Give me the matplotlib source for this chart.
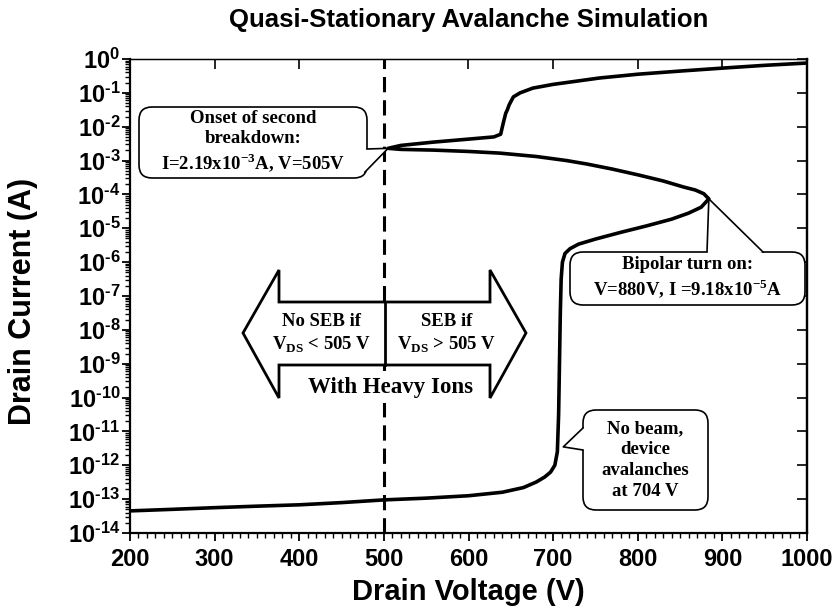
import numpy as np
import matplotlib.pyplot as plt
from matplotlib.patches import FancyBboxPatch, Polygon
from matplotlib.lines import Line2D
from matplotlib.ticker import FixedLocator, MultipleLocator, LogLocator, FuncFormatter, NullLocator
from matplotlib.transforms import Affine2D

# no beam: leakage, avalanche near 704 V, then up to bipolar turn-on
NOBEAM_V = [200, 250, 300, 350, 400, 450, 500, 550, 600, 640, 665, 680, 690, 697,
            702, 705, 706.5, 707.5, 708.5, 709.5, 711, 714, 720, 730, 750, 780,
            810, 840, 860, 875, 884]
NOBEAM_I = [4.5e-14, 5.0e-14, 5.6e-14, 6.2e-14, 6.8e-14, 7.9e-14, 9.5e-14, 1.07e-13,
            1.26e-13, 1.6e-13, 2.2e-13, 3.2e-13, 4.5e-13, 6.3e-13, 1.0e-12, 2.5e-12,
            3.2e-11, 1.0e-9, 3.2e-8, 3.2e-7, 1.0e-6, 1.8e-6, 2.5e-6, 3.4e-6, 4.8e-6,
            7.6e-6, 1.17e-5, 1.86e-5, 2.8e-5, 4.2e-5, 7.4e-5]
# snapback branch back down to the onset of second breakdown
SNAP_V = [878, 868, 854, 830, 800, 770, 740, 716, 680, 637, 600, 558, 520, 505]
SNAP_I = [1.05e-4, 1.35e-4, 1.66e-4, 2.5e-4, 3.8e-4, 5.6e-4, 7.9e-4, 1.0e-3,
          1.32e-3, 1.66e-3, 1.86e-3, 2.04e-3, 2.14e-3, 2.3e-3]
# second breakdown branch
SB_V = [520, 558, 600, 630, 638, 641, 644, 646, 648, 653, 661, 676, 700, 755,
        800, 850, 901, 950, 1000]
SB_I = [2.8e-3, 3.5e-3, 4.3e-3, 5.0e-3, 6.0e-3, 1.26e-2, 2.5e-2, 3.2e-2, 4.4e-2,
        7.6e-2, 0.1, 0.138, 0.178, 0.275, 0.355, 0.44, 0.54, 0.65, 0.76]

XTICKS = [200, 300, 400, 500, 600, 700, 800, 900, 1000]
YTICK_EXP = list(range(-14, 1))

SEB_V = 500
ONSET = (SNAP_V[-1], SNAP_I[-1])
BIPOLAR = (NOBEAM_V[-1], NOBEAM_I[-1])
AVAL_TIP = (712, 3.5e-12)

plt.rcParams.update({'font.family': 'Liberation Sans', 'font.weight': 'bold',
                     'axes.labelweight': 'bold',
                     'mathtext.fontset': 'custom',
                     'mathtext.rm': 'Liberation Sans:bold',
                     'mathtext.bf': 'Liberation Sans:bold'})
SERIF = 'Liberation Serif'

fig = plt.figure(figsize=(8.39, 6.15), dpi=100)
ax = fig.add_axes([130/839, 1 - 533/615, 677/839, 474/615])

volts = NOBEAM_V + SNAP_V + SB_V
amps = NOBEAM_I + SNAP_I + SB_I
ax.plot(volts, amps, color='black', lw=2.6, solid_joinstyle='round', zorder=3)
ax.axvline(SEB_V, color='black', lw=2.2, dashes=(5, 2.6), zorder=2)

ax.set_yscale('log')
ax.set_xlim(200, 1000)
ax.set_ylim(1e-14, 1)

ax.xaxis.set_major_locator(FixedLocator(XTICKS))
ax.xaxis.set_minor_locator(MultipleLocator(10))
ax.yaxis.set_major_locator(FixedLocator([10.0**e for e in YTICK_EXP]))
ax.yaxis.set_minor_locator(LogLocator(base=10, subs=np.arange(2, 10), numticks=100))


def exp_label(v, pos):
    e = int(round(np.log10(v)))
    sign = r'\text{-}' if e < 0 else ''
    return r'$\mathdefault{10^{%s%d}}$' % (sign, abs(e))


ax.yaxis.set_major_formatter(FuncFormatter(exp_label))
ax.tick_params(which='both', direction='out', labelsize=17)
ax.tick_params(which='major', length=6, width=1.3)
ax.tick_params(which='minor', length=3.5, width=1)
ax.tick_params(axis='y', pad=1)
ax.tick_params(axis='x', pad=5)
for s in ax.spines.values():
    s.set_linewidth(1.6)
ax.spines['top'].set_linewidth(1.0)

secx = ax.secondary_xaxis('top')
secx.xaxis.set_major_locator(FixedLocator(XTICKS))
secx.xaxis.set_minor_locator(NullLocator())
secx.tick_params(direction='in', length=7, width=1.2, labeltop=False)
secy = ax.secondary_yaxis('right')
secy.yaxis.set_major_locator(FixedLocator([10.0**e for e in YTICK_EXP]))
secy.yaxis.set_minor_locator(NullLocator())
secy.tick_params(direction='in', length=7, width=1.2, labelright=False)
secy.spines['right'].set_linewidth(1.6)

ax.set_xlabel('Drain Voltage (V)', fontsize=21)
ax.xaxis.set_label_coords(0.5, -0.095)
ax.set_ylabel('Drain Current (A)', fontsize=22, va='center')
ax.yaxis.set_label_coords(-0.158, 0.489)

# reference pixel coordinates (origin top-left) for the annotation shapes
px = Affine2D().scale(1/839, -1/615).translate(0, 1) + fig.transFigure
fig.text(469, 20, 'Quasi-Stationary Avalanche Simulation', transform=px,
         ha='center', va='center', fontsize=18.5)


def to_px(pt):
    return px.inverted().transform(ax.transData.transform(pt))


def callout(box, base, tip, text, fs, ls):
    x0, y0, x1, y1 = box
    fig.add_artist(FancyBboxPatch((x0, y0), x1 - x0, y1 - y0,
                                  boxstyle='round,pad=0,rounding_size=13',
                                  transform=px, fc='white', ec='black', lw=1.2,
                                  zorder=5))
    cx, cy = (x0 + x1) / 2, (y0 + y1) / 2
    inner = []
    for bx, by in base:
        d = np.array([cx - bx, cy - by])
        inner.append(np.array([bx, by]) + 5 * d / np.linalg.norm(d))
    t = to_px(tip)
    fig.add_artist(Polygon([inner[0], base[0], t, base[1], inner[1]], closed=True,
                           transform=px, fc='white', ec='none', zorder=6))
    fig.add_artist(Line2D([base[0][0], t[0], base[1][0]], [base[0][1], t[1], base[1][1]],
                          transform=px, color='black', lw=1.2, zorder=6))
    fig.text(cx, cy, text, transform=px, ha='center', va='center', fontsize=fs,
             family=SERIF, weight='bold', linespacing=ls, zorder=7)


callout((139, 107, 367, 178), [(367, 149), (365, 172)], ONSET,
        'Onset of second\nbreakdown:\nI=2.19x10$^{\\mathdefault{-3}}$A, V=505V', 13.5, 1.25)
callout((570, 252, 805, 305), [(707, 252), (763, 252)], BIPOLAR,
        'Bipolar turn on:\nV=880V, I =9.18x10$^{\\mathdefault{-5}}$A', 13.5, 1.3)
callout((583, 410, 708, 510), [(583, 428), (583, 450)], AVAL_TIP,
        'No beam,\ndevice\navalanches\nat 704 V', 13.5, 1.3)

# double arrow across the 505 V boundary
arrow = [(243, 333), (279, 270), (279, 302), (490, 302), (490, 270), (526, 333),
         (490, 398), (490, 365), (279, 365), (279, 398)]
fig.add_artist(Polygon(arrow, closed=True, transform=px, fc='white', ec='black',
                       lw=2, joinstyle='miter', zorder=5))
fig.add_artist(Line2D([385, 385], [302, 365], transform=px, color='black', lw=2,
                      zorder=6))
fig.text(322, 334, 'No SEB if\nV$_{\\mathdefault{DS}}$ < 505 V', transform=px,
         ha='center', va='center', fontsize=13.5, family=SERIF, weight='bold',
         linespacing=1.3, zorder=7)
fig.text(447, 334, 'SEB if\nV$_{\\mathdefault{DS}}$ > 505 V', transform=px,
         ha='center', va='center', fontsize=13.5, family=SERIF, weight='bold',
         linespacing=1.3, zorder=7)
fig.text(390, 388, 'With Heavy Ions', transform=px, ha='center', va='center',
         fontsize=16.5, family=SERIF, weight='bold', zorder=7,
         bbox=dict(fc='white', ec='none', pad=3))

fig.savefig('out.png', dpi=100)
